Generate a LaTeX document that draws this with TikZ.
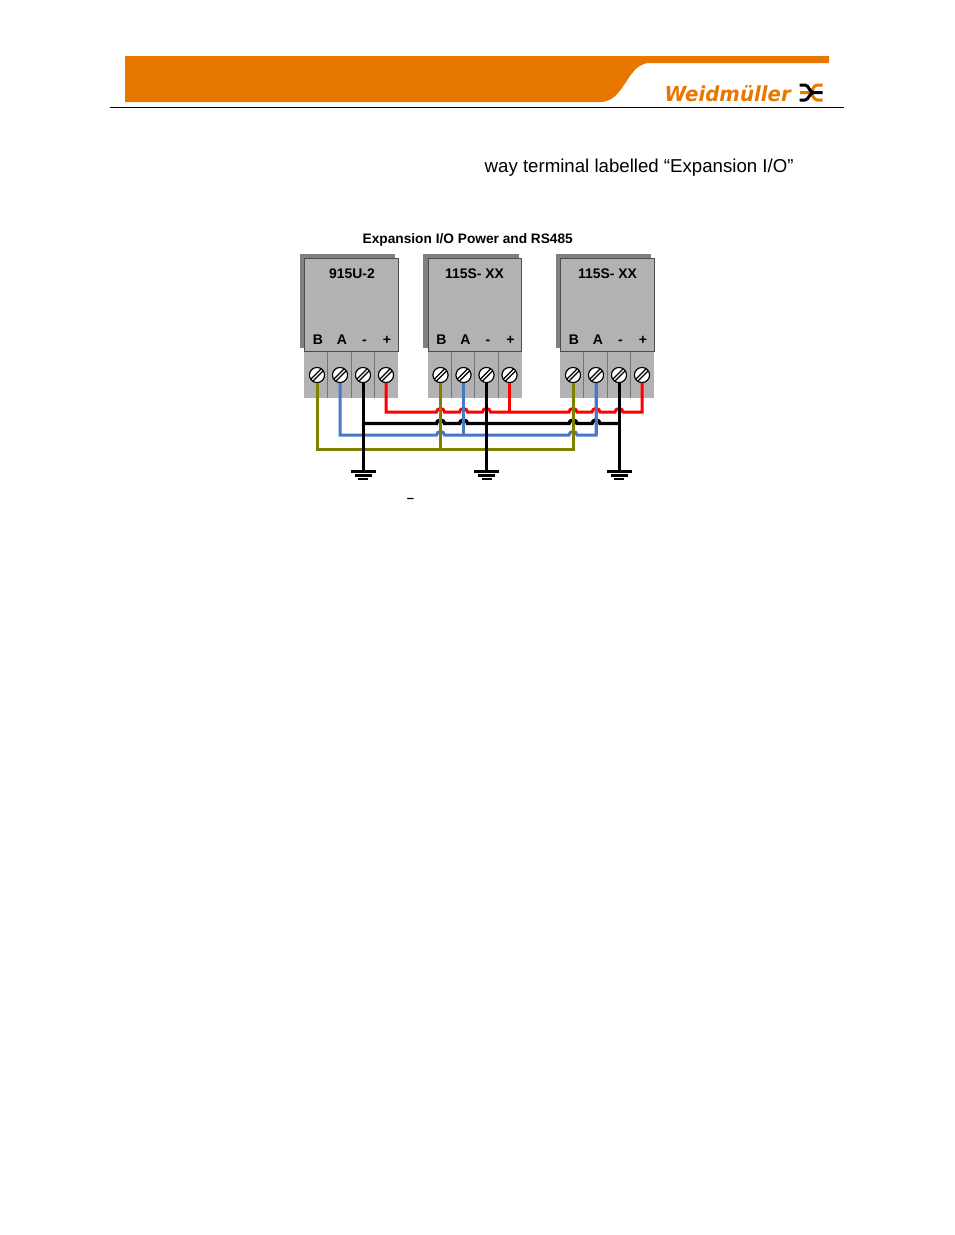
\documentclass[tikz,border=0pt]{standalone}
\usepackage{fontspec}
\setmainfont{Liberation Sans}
\newfontfamily\logofont{DejaVu Sans}
\usetikzlibrary{calc}
\definecolor{wgorange}{RGB}{232,119,0}
\definecolor{boxgray}{RGB}{178,178,178}
\definecolor{shadowgray}{RGB}{128,128,128}
\definecolor{wred}{RGB}{255,0,0}
\definecolor{wblue}{RGB}{70,120,195}
\definecolor{wolive}{RGB}{128,128,0}
\newcommand{\fs}[1]{\fontsize{#1}{#1}\selectfont}
\newcommand{\hopat}[2]{-- ([xshift=-4pt]#1 |- #2) arc[start angle=180,end angle=360,x radius=4,y radius=3.5]}
\tikzset{
  x=1pt,y=-1pt,
  modbox/.style={draw=black!70,line width=1pt,fill=boxgray},
  termcell/.style={draw=none,fill=boxgray,minimum width=23.5pt,minimum height=46.5pt,inner sep=0pt,outer sep=0pt,anchor=north west},
  divider/.style={draw=black!55,line width=0.8pt},
  screw/.style={circle,draw=black,line width=1pt,fill=white,minimum size=15pt,inner sep=0pt,
    path picture={
      \draw[black,line width=1.1pt] ([xshift=-7pt,yshift=-5pt]path picture bounding box.center) -- ([xshift=5pt,yshift=7pt]path picture bounding box.center);
      \draw[black,line width=1.1pt] ([xshift=-5pt,yshift=-7pt]path picture bounding box.center) -- ([xshift=7pt,yshift=5pt]path picture bounding box.center);
    }},
  modlabel/.style={font=\fs{13.9}\bfseries,inner sep=0pt,anchor=base},
  pinlabel/.style={font=\fs{14}\bfseries,inner sep=0pt,anchor=base},
  wire/.style={line width=3pt,line join=miter},
  earthbar/.style={line width=2.5pt,black},
}
\newcommand{\module}[4]{% prefix, x box left, title dx, title
  \fill[shadowgray] (#2-4.3,254) rectangle (#2+91,348);
  \node[termcell] (#1c1) at (#2,351) {};
  \node[termcell] (#1c2) at (#2+23.5,351) {};
  \node[termcell] (#1c3) at (#2+47,351) {};
  \node[termcell] (#1c4) at (#2+70.5,351) {};
  \draw[divider] (#1c1.north east) -- (#1c1.south east);
  \draw[divider] (#1c2.north east) -- (#1c2.south east);
  \draw[divider] (#1c3.north east) -- (#1c3.south east);
  \node[modbox,minimum width=93.5pt,minimum height=93pt,inner sep=0pt,anchor=north west] (#1b) at (#2,258) {};
  \node[modlabel] (#1t) at (#2+#3,278) {#4};
  \node[pinlabel] (#1pb) at (#2+14,344.7) {B};
  \node[pinlabel] (#1pa) at (#2+38,344.7) {A};
  \node[pinlabel] (#1pm) at (#2+60.5,344.7) {-};
  \node[pinlabel] (#1pp) at (#2+83,344.7) {+};
  \node[screw] (#1b1) at (#2+13,375) {};
  \node[screw] (#1b2) at (#2+36,375) {};
  \node[screw] (#1b3) at (#2+59,375) {};
  \node[screw] (#1b4) at (#2+82,375) {};
}
\begin{document}
\begin{tikzpicture}
\useasboundingbox (0,0) rectangle (954,1235);
% header
\fill[wgorange] (125,56) -- (829,56) -- (829,63) -- (650,63)
  .. controls (641,63) and (636,68) .. (630,76)
  .. controls (622,87) and (616,102) .. (600,102) -- (125,102) -- cycle;
\coordinate (ruleL) at (110,107.5);
\coordinate (ruleR) at (844,107.5);
\draw[black,line width=1pt] (ruleL) -- (ruleR);
\node[font=\logofont\bfseries\itshape,text=wgorange,anchor=base west,inner sep=0pt] (logo) at (664.5,101)
  {\resizebox{126pt}{16pt}{Weidmüller}};
% logo mark
\draw[wgorange,line width=3pt] (822.5,85) -- (817,85) .. controls (813,85) and (813,92.5) .. (808,92.5) -- (800,92.5);
\draw[wgorange,line width=3pt] (822.5,100) -- (817,100) .. controls (813,100) and (813,92.5) .. (808,92.5);
\draw[black,line width=3pt] (799.5,85) -- (805,85) .. controls (809,85) and (809,92.5) .. (814,92.5) -- (822.5,92.5);
\draw[black,line width=3pt] (799.5,100) -- (805,100) .. controls (809,100) and (809,92.5) .. (814,92.5);
% text
\node[font=\fs{18.65},anchor=base west,inner sep=0pt] (intro) at (484.5,172) {way terminal labelled “Expansion I/O”};
\node[font=\fs{13.7}\bfseries,anchor=base west,inner sep=0pt] (title) at (362.5,243) {Expansion I/O Power and RS485};
\node[font=\fs{13}\bfseries,inner sep=0pt] (dash) at (410.5,500) {–};
% modules
\module{m}{304}{48}{915U-2}
\module{n}{427.5}{47}{115S- XX}
\module{o}{560}{47.5}{115S- XX}
% wire rails
\coordinate (redy) at (0,412);
\coordinate (blky) at (0,423.5);
\coordinate (bluy) at (0,435);
\coordinate (oliy) at (0,449);
% olive
\draw[wire,wolive] (mb1.center) -- (mb1 |- oliy) -- (ob1 |- oliy) -- (ob1.center);
\draw[wire,wolive] (nb1.center) -- (nb1 |- oliy);
% blue
\draw[wire,wblue] (mb2.center) -- (mb2 |- bluy) \hopat{nb1}{bluy} \hopat{ob1}{bluy} -- (ob2 |- bluy) -- (ob2.center);
\draw[wire,wblue] (nb2.center) -- (nb2 |- bluy);
% red
\draw[wire,wred] (mb4.center) -- (mb4 |- redy) \hopat{nb1}{redy} \hopat{nb2}{redy} \hopat{nb3}{redy} \hopat{ob1}{redy} \hopat{ob2}{redy} \hopat{ob3}{redy} -- (ob4 |- redy) -- (ob4.center);
\draw[wire,wred] (nb4.center) -- (nb4 |- redy);
% black
\draw[wire,black,line width=3.4pt] (mb3 |- blky) \hopat{nb1}{blky} \hopat{nb2}{blky} \hopat{ob1}{blky} \hopat{ob2}{blky} -- (ob3 |- blky);
% grounds
\foreach \p/\g in {m/ga,n/gb,o/gc}{
  \coordinate (\g) at (\p b3 |- 0,471.5);
  \draw[wire,black] (\p b3.center) -- (\g);
  \draw[earthbar] ([xshift=-12.5pt]\g) -- ([xshift=12.5pt]\g);
  \draw[earthbar] ([xshift=-8.5pt,yshift=-4pt]\g) -- ([xshift=8.5pt,yshift=-4pt]\g);
  \draw[earthbar] ([xshift=-5pt,yshift=-7.5pt]\g) -- ([xshift=5pt,yshift=-7.5pt]\g);
}
% verticals pass through the hops; screws stay on top
\draw[wire,wolive] (nb1.center) -- (nb1 |- oliy);
\draw[wire,wolive] (ob1.center) -- (ob1 |- oliy);
\draw[wire,wblue] (nb2.center) -- (nb2 |- bluy);
\draw[wire,wblue] (ob2.center) -- (ob2 |- bluy);
\foreach \s in {m,n,o}{\foreach \i in {1,2,3,4}{
  \node[screw] at (\s b\i) {};
}}
\end{tikzpicture}
\end{document}
